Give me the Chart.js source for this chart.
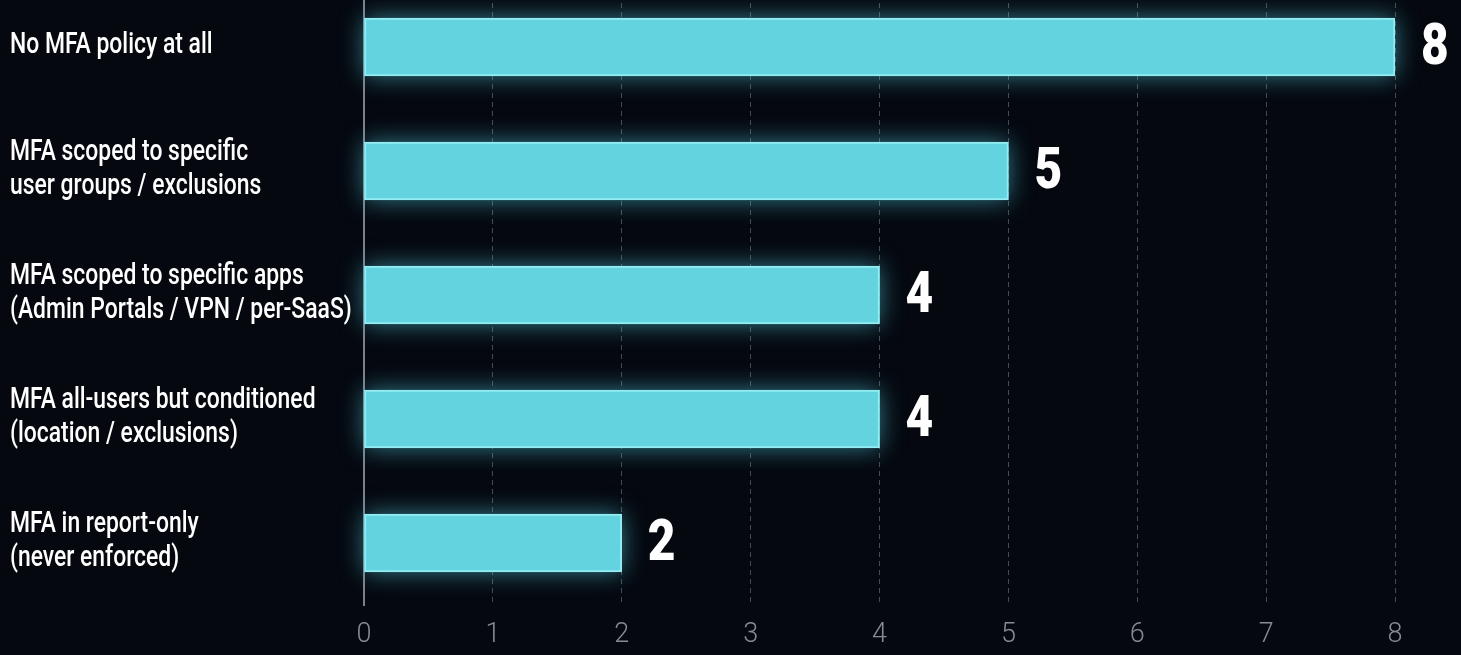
<!DOCTYPE html>
<html>
<head>
<meta charset="utf-8">
<script src="https://cdn.jsdelivr.net/npm/chart.js@4/dist/chart.umd.min.js"></script>
<style>
  html, body { margin: 0; padding: 0; background: #05080f; overflow: hidden; }
  #wrap { position: absolute; left: 0; top: -15px; width: 1461px; height: 670px; }
</style>
</head>
<body>
<div id="wrap"><canvas id="chart"></canvas></div>
<script>
const categories = [
  ['No MFA policy at all'],
  ['MFA scoped to specific', 'user groups / exclusions'],
  ['MFA scoped to specific apps', '(Admin Portals / VPN / per-SaaS)'],
  ['MFA all-users but conditioned', '(location / exclusions)'],
  ['MFA in report-only', '(never enforced)']
];
const counts = [8, 5, 4, 4, 2];
const xTicks = [0, 1, 2, 3, 4, 5, 6, 7, 8];

const barColor = '#62d3df';
const squeeze = 0.79; // condensed look for the labels

// soft cyan glow behind each bar
const glow = {
  id: 'glow',
  beforeDatasetsDraw(chart) {
    const c = chart.ctx;
    const meta = chart.getDatasetMeta(0);
    c.save();
    c.shadowColor = 'rgba(80, 205, 225, 0.6)';
    c.shadowBlur = 24;
    c.fillStyle = barColor;
    meta.data.forEach(bar => {
      c.fillRect(bar.base, bar.y - bar.height / 2, bar.x - bar.base, bar.height);
    });
    c.restore();
  }
};

// category labels (left) and big numbers (right of bars)
const labelsPlugin = {
  id: 'labelsPlugin',
  afterDatasetsDraw(chart) {
    const c = chart.ctx;
    const yScale = chart.scales.y;
    const meta = chart.getDatasetMeta(0);
    const lh = 34;
    c.save();
    c.fillStyle = '#ffffff';
    c.textBaseline = 'middle';
    c.textAlign = 'left';
    c.font = '500 29px Roboto, sans-serif';
    categories.forEach((lines, i) => {
      const yc = yScale.getPixelForValue(i) - 1;
      const y0 = yc - (lines.length - 1) * lh / 2;
      lines.forEach((t, j) => {
        c.save();
        c.translate(10, y0 + j * lh);
        c.scale(squeeze, 1);
        c.fillText(t, 0, 0);
        c.restore();
      });
    });
    c.font = '900 57px Roboto, sans-serif';
    meta.data.forEach((bar, i) => {
      c.save();
      c.translate(bar.x + 26, bar.y + 3);
      c.scale(0.84, 1);
      c.fillText(String(counts[i]), 0, 0);
      c.restore();
    });
    c.restore();
  }
};

const ctx = document.getElementById('chart').getContext('2d');
const chart = new Chart(ctx, {
  type: 'bar',
  data: {
    labels: categories.map(l => l.join(' ')),
    datasets: [{
      data: counts,
      backgroundColor: barColor,
      borderColor: '#93ecf2',
      borderWidth: 2,
      borderSkipped: false,
      barThickness: 58
    }]
  },
  options: {
    indexAxis: 'y',
    responsive: true,
    maintainAspectRatio: false,
    animation: false,
    layout: { padding: { left: 0, right: 66, top: 0, bottom: 0 } },
    plugins: {
      legend: { display: false },
      tooltip: { enabled: false }
    },
    scales: {
      x: {
        min: 0,
        max: 8,
        afterFit(scale) { scale.height = 50; },
        afterBuildTicks(scale) { scale.ticks = xTicks.map(v => ({ value: v })); },
        grid: {
          color: 'rgba(150, 155, 165, 0.45)',
          lineWidth: 1,
          drawTicks: false
        },
        border: { display: false, dash: [5, 4] },
        ticks: {
          color: '#858b94',
          padding: 14,
          font: { family: 'Roboto', size: 27, weight: '300' }
        }
      },
      y: {
        afterFit(scale) { scale.width = 364; },
        grid: { display: false },
        border: { display: true, color: '#7c8088', width: 2 },
        ticks: { display: false }
      }
    }
  },
  plugins: [glow, labelsPlugin]
});
</script>
</body>
</html>
